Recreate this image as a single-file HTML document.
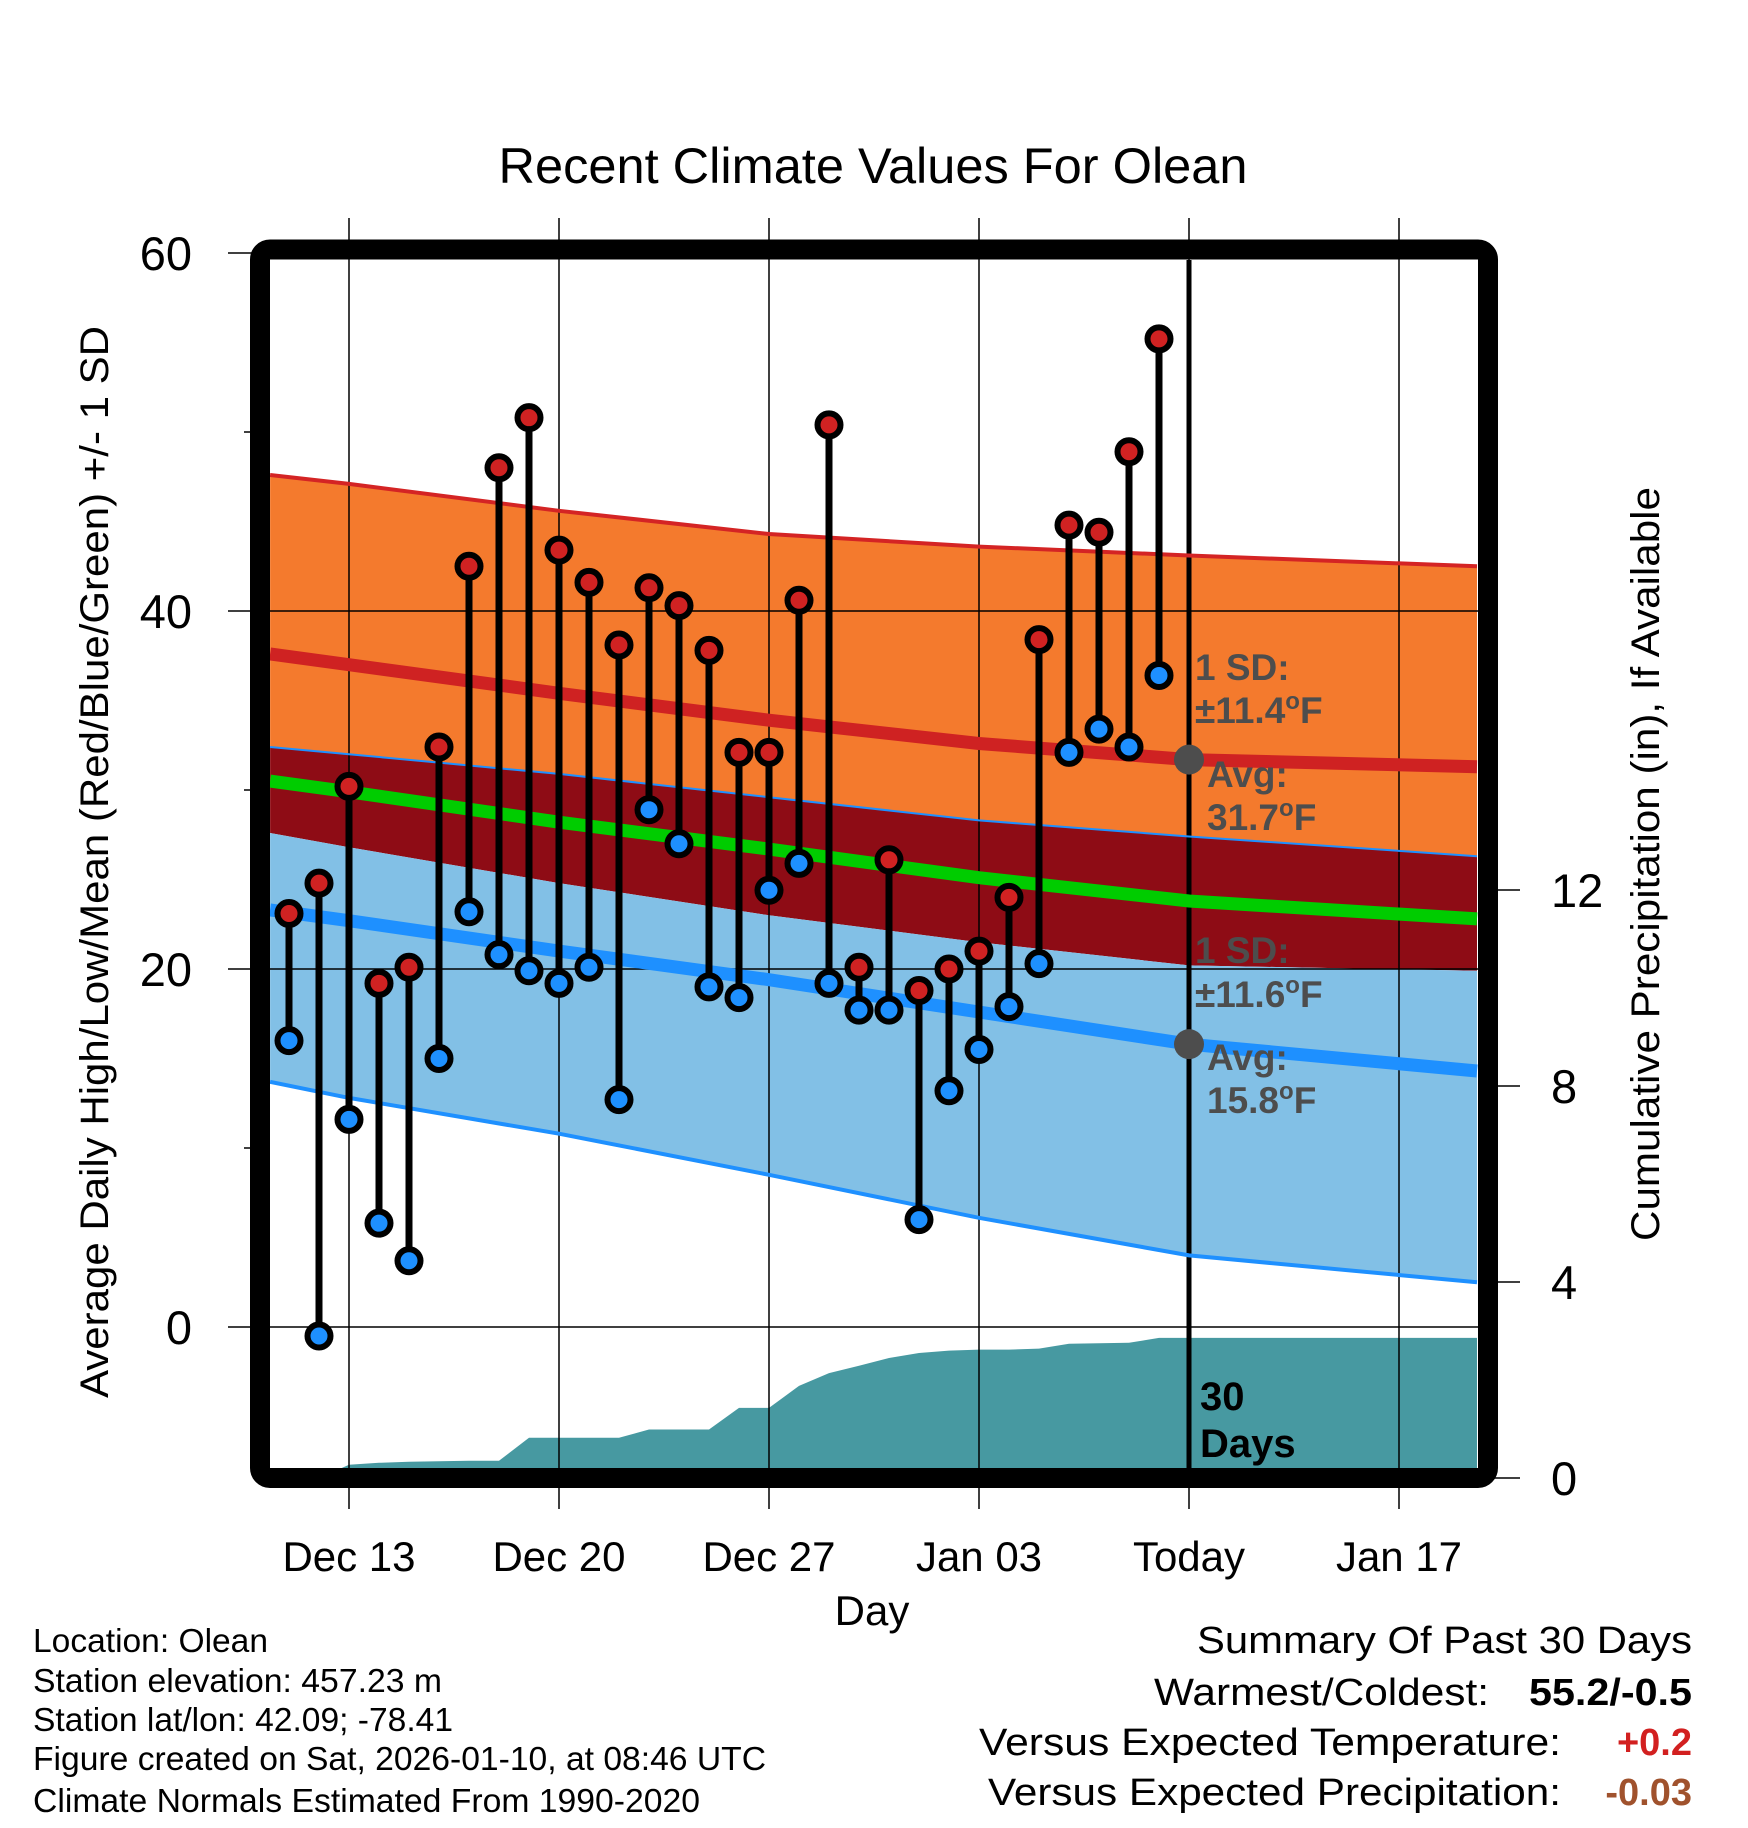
<!DOCTYPE html>
<html><head><meta charset="utf-8"><style>
html,body{margin:0;padding:0;background:#fff;}
svg{display:block;font-family:"Liberation Sans",sans-serif;}
</style></head><body>
<svg id="chart" width="1748" height="1828" viewBox="0 0 1748 1828" xmlns="http://www.w3.org/2000/svg">
<defs><clipPath id="plotclip"><rect x="270" y="260" width="1208" height="1208"/></clipPath></defs>
<g id="bands" clip-path="url(#plotclip)"></g>
<g id="precip" clip-path="url(#plotclip)"></g>
<g id="grid"></g>
<g id="normlines" clip-path="url(#plotclip)"></g>
<g id="points"></g>
<g id="annot"></g>
<rect x="260" y="249.5" width="1228" height="1228.5" rx="10" fill="none" stroke="#000" stroke-width="20"/>
<g id="axes"></g>
<text x="873" y="183" font-size="50" text-anchor="middle" textLength="749" lengthAdjust="spacingAndGlyphs">Recent Climate Values For Olean</text>
<text transform="translate(108,862) rotate(-90)" font-size="40" text-anchor="middle" textLength="1072" lengthAdjust="spacingAndGlyphs">Average Daily High/Low/Mean (Red/Blue/Green) +/- 1 SD</text>
<text transform="translate(1659,864) rotate(-90)" font-size="40" text-anchor="middle" textLength="754" lengthAdjust="spacingAndGlyphs">Cumulative Precipitation (in), If Available</text>
<text x="872" y="1625" font-size="42" text-anchor="middle">Day</text>
<g font-size="33">
<text x="33" y="1652" textLength="235" lengthAdjust="spacingAndGlyphs">Location: Olean</text>
<text x="33" y="1692" textLength="409" lengthAdjust="spacingAndGlyphs">Station elevation: 457.23 m</text>
<text x="33" y="1731" textLength="420" lengthAdjust="spacingAndGlyphs">Station lat/lon: 42.09; -78.41</text>
<text x="33" y="1770" textLength="733" lengthAdjust="spacingAndGlyphs">Figure created on Sat, 2026-01-10, at 08:46 UTC</text>
<text x="33" y="1812" textLength="667" lengthAdjust="spacingAndGlyphs">Climate Normals Estimated From 1990-2020</text>
</g>
<g font-size="38">
<text x="1692" y="1653" text-anchor="end" textLength="495" lengthAdjust="spacingAndGlyphs">Summary Of Past 30 Days</text>
<text x="1489" y="1705" text-anchor="end" textLength="335" lengthAdjust="spacingAndGlyphs">Warmest/Coldest:</text>
<text x="1692" y="1705" text-anchor="end" font-weight="bold" textLength="163" lengthAdjust="spacingAndGlyphs">55.2/-0.5</text>
<text x="1561" y="1755" text-anchor="end" textLength="582" lengthAdjust="spacingAndGlyphs">Versus Expected Temperature:</text>
<text x="1692" y="1755" text-anchor="end" font-weight="bold" fill="#d22020">+0.2</text>
<text x="1561" y="1805" text-anchor="end" textLength="573" lengthAdjust="spacingAndGlyphs">Versus Expected Precipitation:</text>
<text x="1692" y="1805" text-anchor="end" font-weight="bold" fill="#a0522d">-0.03</text>
</g>
</svg>
<script>
// observed daily values, Dec 11 .. Jan 9 (day offsets from Dec 13)
const obsDays = [-2,-1,0,1,2,3,4,5,6,7,8,9,10,11,12,13,14,15,16,17,18,19,20,21,22,23,24,25,26,27];
const highs = [23.1,24.8,30.2,19.2,20.1,32.4,42.5,48.0,50.8,43.4,41.6,38.1,41.3,40.3,37.8,32.1,32.1,40.6,50.4,20.1,26.1,18.8,20.0,21.0,24.0,38.4,44.8,44.4,48.9,55.2];
const lows = [16.0,-0.5,11.6,5.8,3.7,15.0,23.2,20.8,19.9,19.2,20.1,12.7,28.9,27.0,19.0,18.4,24.4,25.9,19.2,17.7,17.7,6.0,13.2,15.5,17.9,20.3,32.1,33.4,32.4,36.4];
const precip = [0,0,0.27,0.31,0.33,0.34,0.35,0.35,0.82,0.82,0.82,0.82,0.99,0.99,0.99,1.43,1.43,1.88,2.14,2.29,2.45,2.55,2.6,2.62,2.62,2.64,2.74,2.75,2.76,2.86];
// climate normals
const normDays = [-2.63,0,7,14,21,28,37.6];
const highUpper = [47.6,47.1,45.6,44.3,43.6,43.1,42.5];
const highMean = [37.6,37.0,35.4,33.9,32.6,31.7,31.3];
const highLower = [32.4,32.0,30.9,29.6,28.3,27.4,26.3];
const avgMean = [30.5,29.9,28.2,26.7,25.1,23.8,22.8];
const lowUpper = [27.6,26.8,24.8,23.0,21.5,20.2,19.9];
const lowMean = [23.3,22.7,21.0,19.4,17.6,15.8,14.3];
const lowLower = [13.7,12.8,10.8,8.5,6.1,4.0,2.5];
const xTickDays = [0,7,14,21,28,35];
const xTickLabels = ["Dec 13","Dec 20","Dec 27","Jan 03","Today","Jan 17"];
const yTicks = [0,20,40,60];
const yMinor = [10,30,50];
const y2Ticks = [0,4,8,12];
const todayDay = 28;
const todayHighAvg = 31.7, todayLowAvg = 15.8;

const NS = "http://www.w3.org/2000/svg";
const X = d => 349 + 30*d;
const Y = t => 1327 - 17.9*t;
const YP = p => 1478 - 49*p;
function mk(tag, attrs, parent){const e=document.createElementNS(NS,tag);for(const k in attrs)e.setAttribute(k,attrs[k]);parent.appendChild(e);return e;}
const $ = id => document.getElementById(id);

function linePts(days, vals){return days.map((d,i)=>X(d).toFixed(1)+","+Y(vals[i]).toFixed(1));}
function band(upper, lower, fill, name){
  const pts = linePts(normDays, upper).concat(linePts(normDays, lower).reverse());
  const p = mk("polygon",{points:pts.join(" "),fill:fill},$("bands"));
  
  
}
band(highUpper, highLower, "#f47a2d", "high-sd-band");
band(highLower, lowUpper, "#8e0c15", "overlap-band");
band(lowUpper, lowLower, "#82c0e6", "low-sd-band");

// precipitation area
{
  const pts = [X(-2.63)+","+YP(0)];
  obsDays.forEach((d,i)=>pts.push(X(d)+","+YP(precip[i]).toFixed(1)));
  pts.push(X(37.6)+","+YP(precip[precip.length-1]).toFixed(1));
  pts.push(X(37.6)+","+YP(0));
  const p = mk("polygon",{points:pts.join(" "),fill:"#4799a1"},$("precip"));
  
  
}

// grid
xTickDays.forEach((d,i)=>{
  const l = mk("line",{x1:X(d),x2:X(d),y1:218,y2:1509,stroke:"#000","stroke-width":1.5},$("grid"));
  
  
  if(d===todayDay){
    const tl = mk("line",{x1:X(d),x2:X(d),y1:260,y2:1468,stroke:"#000","stroke-width":5},$("grid"));
    
    
  }
  const t = mk("text",{x:X(d),y:1571,"font-size":42,"text-anchor":"middle"},$("axes"));
  t.textContent = xTickLabels[i];
  
  
});
yTicks.forEach(v=>{
  const l = mk("line",{x1:228,x2:1478,y1:Y(v),y2:Y(v),stroke:"#000","stroke-width":1.5},$("grid"));
  
  
  const t = mk("text",{x:192,y:Y(v)+17,"font-size":47,"text-anchor":"end"},$("axes"));
  t.textContent = v;
  
  
});
yMinor.forEach(v=>{
  const l = mk("line",{x1:244,x2:262,y1:Y(v),y2:Y(v),stroke:"#000","stroke-width":1.5},$("axes"));
  
  
});
y2Ticks.forEach(v=>{
  const l = mk("line",{x1:1490,x2:1520,y1:YP(v),y2:YP(v),stroke:"#000","stroke-width":1.5},$("axes"));
  
  
  const t = mk("text",{x:1551,y:YP(v)+17,"font-size":47},$("axes"));
  t.textContent = v;
  
  
});

// normal lines
function nline(vals, color, w, name){
  const p = mk("polyline",{points:linePts(normDays, vals).join(" "),fill:"none",stroke:color,"stroke-width":w},$("normlines"));
  
  
}
nline(highUpper,"#d42424",4,"high-upper-sd-line");
nline(highLower,"#1e90ff",2,"high-lower-sd-line");
nline(lowLower,"#1e90ff",4,"low-lower-sd-line");
nline(highMean,"#cf2222",13,"high-normal-line");
nline(avgMean,"#00cc00",13,"mean-normal-line");
nline(lowMean,"#1e90ff",13,"low-normal-line");

// observed points
obsDays.forEach((d,i)=>{
  const g = mk("g",{},$("points"));
  
  
  const s = mk("line",{x1:X(d),x2:X(d),y1:Y(highs[i]),y2:Y(lows[i]),stroke:"#000","stroke-width":7},g);
  
  
  const h = mk("circle",{cx:X(d),cy:Y(highs[i]),r:11.5,fill:"#d02222",stroke:"#000","stroke-width":6},g);
  
  
  const lo = mk("circle",{cx:X(d),cy:Y(lows[i]),r:11.5,fill:"#1e90ff",stroke:"#000","stroke-width":6},g);
  
  
});

// annotations
{
  const a = $("annot");
  [todayHighAvg, todayLowAvg].forEach(v=>{
    const c = mk("circle",{cx:X(todayDay),cy:Y(v),r:15,fill:"#4d4d4d"},a);
    
    
  });
  const lines = [
    [1195,680,"1 SD:",null],[1195,723,"\u00b111.4","F"],[1207,787,"Avg:",null],[1207,830,"31.7","F"],
    [1195,963,"1 SD:",null],[1195,1007,"\u00b111.6","F"],[1207,1070,"Avg:",null],[1207,1113,"15.8","F"]
  ];
  lines.forEach(L=>{
    const t = mk("text",{x:L[0],y:L[1],"font-size":37,"font-weight":"bold",fill:"#4d4d4d"},a);
    
    
    t.appendChild(document.createTextNode(L[2]));
    if(L[3]){
      const o = mk("tspan",{"font-size":24,dy:-14},t); o.textContent="o";
      const f = mk("tspan",{dy:14},t); f.textContent=L[3];
    }
  });
  const t1 = mk("text",{x:1200,y:1410,"font-size":40,"font-weight":"bold"},a);
  t1.textContent="30";
  
  
  const t2 = mk("text",{x:1200,y:1457,"font-size":40,"font-weight":"bold"},a);
  t2.textContent="Days";
  
  
}
</script>
</body></html>
